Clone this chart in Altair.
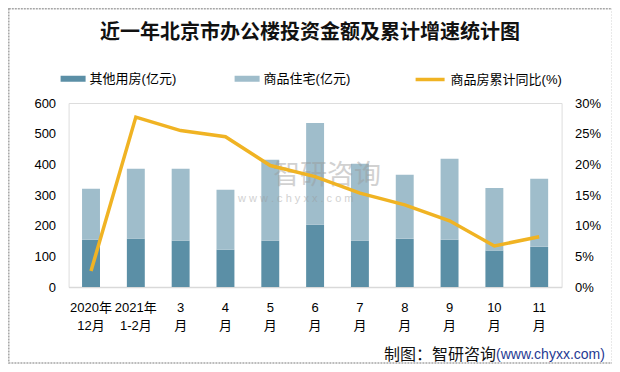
import altair as alt
import pandas as pd

months = ["2020年|12月", "2021年|1-2月", "3|月", "4|月", "5|月", "6|月",
          "7|月", "8|月", "9|月", "10|月", "11|月"]
other = [154, 158, 151, 122, 151, 203, 151, 157, 154, 119, 131]
residential = [166, 228, 235, 195, 264, 332, 251, 209, 264, 204, 222]
growth = [2.6, 27.7, 25.5, 24.5, 19.8, 18.0, 15.3, 13.4, 10.8, 6.7, 8.2]
series = ["其他用房(亿元)", "商品住宅(亿元)"]
line_name = "商品房累计同比(%)"
title_text = "近一年北京市办公楼投资金额及累计增速统计图"

FONT = "Liberation Sans, Noto Sans CJK SC"
OX, OY = 68.6, 103.0  # plot origin on page

rows = []
for m, o, r in zip(months, other, residential):
    rows.append({"month": m, "series": series[0], "value": o, "ord": 0})
    rows.append({"month": m, "series": series[1], "value": r, "ord": 1})
bars_df = pd.DataFrame(rows)
line_df = pd.DataFrame({"month": months, "growth": growth, "name": line_name})

xenc = alt.X("month:N", sort=months,
             scale=alt.Scale(paddingInner=0.6, paddingOuter=0.3),
             axis=alt.Axis(title=None, labelAngle=0, ticks=False,
                           labelExpr="split(datum.label, '|')",
                           domainColor="#D9D9D9", domainWidth=1.5,
                           labelPadding=14, labelFontSize=13, labelLineHeight=18,
                           labelColor="#000", labelFont=FONT))

bars = alt.Chart(bars_df).mark_bar().encode(
    x=xenc,
    y=alt.Y("value:Q", stack="zero", scale=alt.Scale(domain=[0, 600]),
            axis=alt.Axis(title=None, values=[0, 100, 200, 300, 400, 500, 600],
                          grid=False, domain=False, ticks=False, labelPadding=13,
                          labelFontSize=13, labelColor="#000", labelFont=FONT)),
    color=alt.Color("series:N", scale=alt.Scale(domain=series, range=["#5B8FA6", "#9FBDCB"]),
                    legend=alt.Legend(title=None, orient="none", legendX=-8, legendY=-37,
                                      direction="horizontal", columnPadding=58,
                                      symbolType="M-1,-0.24H1V0.24H-1Z", symbolSize=625,
                                      symbolStrokeWidth=0,
                                      labelFontSize=13, labelFont=FONT, labelColor="#000",
                                      labelOffset=4)),
    order=alt.Order("ord:Q"),
)

line = alt.Chart(line_df).mark_line(strokeWidth=3.5).encode(
    x=alt.X("month:N", sort=months),
    y=alt.Y("growth:Q", scale=alt.Scale(domain=[0, 30]),
            axis=alt.Axis(title=None, orient="right", values=[0, 5, 10, 15, 20, 25, 30],
                          labelExpr="datum.value + '%'", grid=False, domain=False,
                          ticks=False, labelPadding=13, labelFontSize=13,
                          labelColor="#000", labelFont=FONT)),
    stroke=alt.Stroke("name:N", scale=alt.Scale(domain=[line_name], range=["#F0B323"]),
                      legend=alt.Legend(title=None, orient="none", legendX=345, legendY=-40,
                                        symbolType="stroke", symbolSize=841,
                                        symbolStrokeWidth=3.5,
                                        labelFontSize=13, labelFont=FONT, labelColor="#000",
                                        labelOffset=4)),
)

one = pd.DataFrame({"k": [0]})

border = alt.Chart(one).mark_rect(fill="white", fillOpacity=0, stroke="#A6A6A6",
                                  strokeWidth=1.5, strokeDash=[2, 1]).encode(
    x=alt.value(8.8 - OX), x2=alt.value(612.5 - OX),
    y=alt.value(8.8 - OY), y2=alt.value(363 - OY))

title = alt.Chart(one).mark_text(fontSize=20, fontWeight="bold", font="Noto Sans CJK SC",
                                 color="#111", align="center", baseline="middle").encode(
    x=alt.value(310 - OX), y=alt.value(33 - OY), text=alt.value(title_text))

wm1 = alt.Chart(one).mark_text(fontSize=27, font="Noto Sans CJK SC", color="#9A9A9A",
                               opacity=0.45, align="left", baseline="middle").encode(
    x=alt.value(273 - OX), y=alt.value(176 - OY), text=alt.value("智研咨询"))
wm2 = alt.Chart(one).mark_text(fontSize=11, font=FONT, color="#9A9A9A", opacity=0.45,
                               align="left", baseline="middle").encode(
    x=alt.value(238 - OX), y=alt.value(199 - OY), text=alt.value("w w w . c h y x x . c o m"))

foot1 = alt.Chart(one).mark_text(fontSize=16, font="Noto Sans CJK SC", color="#111",
                                 align="right", baseline="middle").encode(
    x=alt.value(496 - OX), y=alt.value(355 - OY), text=alt.value("制图：智研咨询"))
foot2 = alt.Chart(one).mark_text(fontSize=14, font=FONT, color="#1F3A93",
                                 align="left", baseline="middle").encode(
    x=alt.value(496 - OX), y=alt.value(355 - OY), text=alt.value("(www.chyxx.com)"))

chart = alt.layer(border, bars, wm1, wm2, line, title, foot1, foot2).resolve_scale(
    y="independent"
).properties(
    width=493, height=184,
    autosize=alt.AutoSizeParams(type="none"),
    padding={"left": 60.6, "top": 95, "right": 50.4, "bottom": 77},
).configure_view(stroke=None).configure(background="white")

chart.save("out.html", embed_options={"renderer": "svg", "actions": False})
